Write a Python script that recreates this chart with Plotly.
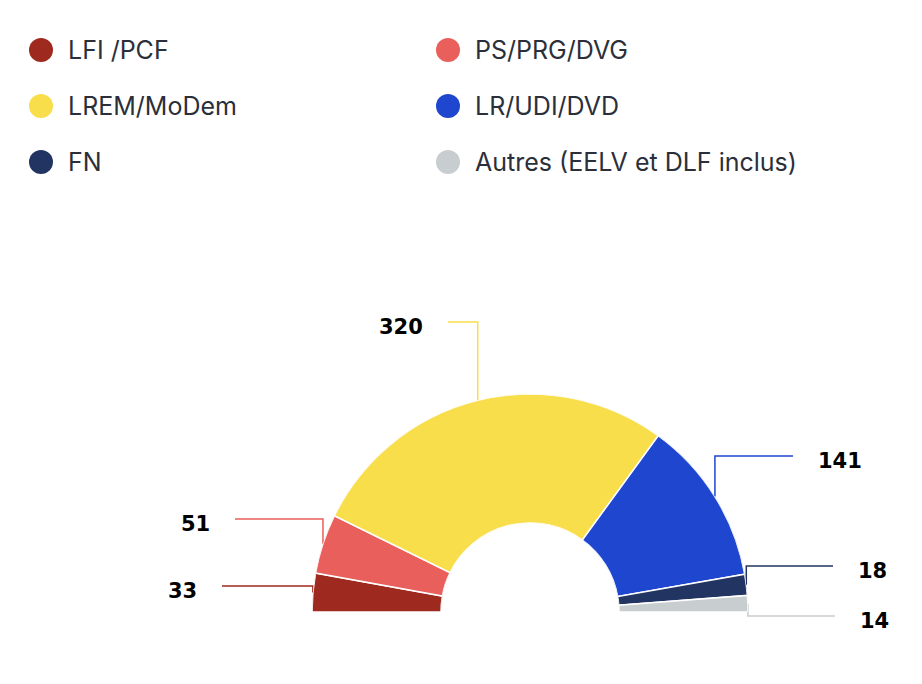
import math

import plotly.graph_objects as go

# data
parties = ["LFI /PCF", "PS/PRG/DVG", "LREM/MoDem", "LR/UDI/DVD", "FN", "Autres (EELV et DLF inclus)"]
seats = [33, 51, 320, 141, 18, 14]
colors = ["#9e2a1f", "#e95f5b", "#f8de4b", "#1e46cf", "#223461", "#c8cdd0"]

# layout (screen pixels; the page body adds an 8px margin)
W, H = 922, 684
PAD = 8
CX, CY = 530, 612          # centre of the half donut
R_OUT, R_IN = 218, 89
ELBOW_Y = [586, 519, 322, 456, 566, 616]   # where the leader line turns
LINE_END_X = [222, 235, 448, 793, 833, 835]
LABEL_GAP = 23

total = sum(seats)
widths = [s / total * 180 for s in seats]
mids = []
acc = 0
for s in seats:
    mids.append((acc + s / 2) / total * 180)
    acc += s

fig = go.Figure()

fig.add_trace(go.Barpolar(
    r=[1] * len(seats),
    theta=mids,
    width=widths,
    marker=dict(color=colors, line=dict(color="white", width=1.5)),
    hoverinfo="skip",
    showlegend=False,
))

# leader lines + value labels
annotations = []
for i, s in enumerate(seats):
    ang = math.radians(180 - mids[i])
    x0 = CX + R_OUT * math.cos(ang)
    y0 = CY - R_OUT * math.sin(ang)
    fig.add_trace(go.Scatter(
        x=[x0, x0, LINE_END_X[i]],
        y=[y0, ELBOW_Y[i], ELBOW_Y[i]],
        mode="lines",
        line=dict(color=colors[i], width=1.5),
        hoverinfo="skip",
        showlegend=False,
    ))
    left = LINE_END_X[i] < x0
    annotations.append(dict(
        x=LINE_END_X[i] - LABEL_GAP if left else LINE_END_X[i] + LABEL_GAP,
        y=ELBOW_Y[i] + 5,
        xref="x", yref="y",
        text="<b>%d</b>" % s,
        showarrow=False,
        xanchor="right" if left else "left",
        yanchor="middle",
        font=dict(family="DejaVu Sans, sans-serif", size=21, color="#000000"),
    ))

# legend, two columns
shapes = []
for i, name in enumerate(parties):
    col, row = i % 2, i // 2
    mx = 41 + col * 407
    my = 50 + row * 56
    shapes.append(dict(
        type="circle", xref="x", yref="y",
        x0=mx - 12, x1=mx + 12, y0=my - 12, y1=my + 12,
        fillcolor=colors[i], line=dict(width=0),
    ))
    annotations.append(dict(
        x=mx + 25, y=my, xref="x", yref="y",
        text=name, showarrow=False,
        xanchor="left", yanchor="middle",
        font=dict(family="Inter, Roboto, sans-serif", size=25, color="#2b2f3a"),
    ))

layout = go.Layout(
    width=W,
    height=H,
    margin=dict(l=0, r=0, t=0, b=0),
    paper_bgcolor="white",
    plot_bgcolor="rgba(0,0,0,0)",
    xaxis=dict(range=[PAD, W + PAD], visible=False, domain=[0, 1], fixedrange=True),
    yaxis=dict(range=[H + PAD, PAD], visible=False, domain=[0, 1], fixedrange=True),
    polar=dict(
        domain=dict(x=[(CX - PAD - R_OUT) / W, (CX - PAD + R_OUT) / W],
                    y=[1 - (CY - PAD) / H, 1 - (CY - PAD - R_OUT) / H]),
        sector=[0, 180],
        hole=R_IN / R_OUT,
        bgcolor="rgba(0,0,0,0)",
        radialaxis=dict(range=[0, 1], visible=False),
        angularaxis=dict(rotation=180, direction="clockwise", visible=False),
    ),
    shapes=shapes,
    annotations=annotations,
    showlegend=False,
)
fig.update_layout(layout)
fig.write_html("out.html")
